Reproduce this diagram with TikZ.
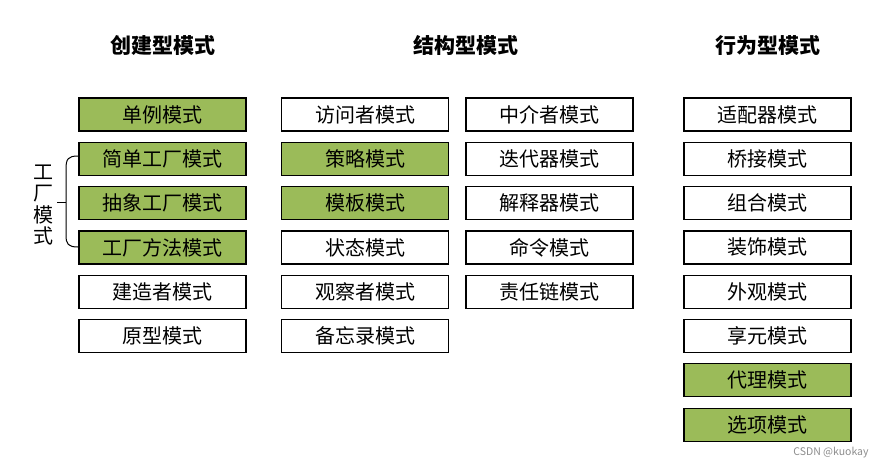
\documentclass[tikz,border=0pt]{standalone}
\usepackage{fontspec}
\setmainfont{Noto Sans CJK SC}
\usetikzlibrary{positioning}
\definecolor{patgreen}{HTML}{9BBB59}
\tikzset{
  pat/.style={draw=black, line width=1.2pt, fill=white, minimum width=167pt,
    minimum height=33pt, inner sep=0pt, font=\fontsize{20}{20}\selectfont},
  hot/.style={pat, fill=patgreen},
  head/.style={font=\fontsize{21}{21}\selectfont\bfseries},
}
\begin{document}
\begin{tikzpicture}[x=1pt, y=1pt, node distance=10.1pt]
      \useasboundingbox (0,0) rectangle (887,-469);

      % headings
      \node[head] (create) at (163,-45) {创建型模式} ;
      \node[head] (struct) at (466,-45) {结构型模式} ;
      \node[head] (behave) at (768,-45) {行为型模式} ;

      % creational
      \node[hot] (single) at (162.5,-114.5) {单例模式} ;
      \node[hot, below=of single] (simple) {简单工厂模式} ;
      \node[hot, below=of simple] (abstract) {抽象工厂模式} ;
      \node[hot, below=of abstract] (method) {工厂方法模式} ;
      \node[pat, below=of method] (builder) {建造者模式} ;
      \node[pat, below=of builder] (proto) {原型模式} ;

      % factory brace
      \node[font=\fontsize{20}{21.5}\selectfont, align=center] (factory) at (43,-205)
        {工\\厂\\模\\式} ;
      \draw[line width=1pt] (78,-156) .. controls (68,-156) and (66,-159) .. (66,-169)
        -- (66,-235) .. controls (66,-244) and (68,-247) .. (78,-247) ;
      \draw[line width=1pt] (57,-202) -- (66,-202) ;

      % structural, left
      \node[pat] (visitor) at (365,-114.5) {访问者模式} ;
      \node[hot, below=of visitor] (strategy) {策略模式} ;
      \node[hot, below=of strategy] (template) {模板模式} ;
      \node[pat, below=of template] (state) {状态模式} ;
      \node[pat, below=of state] (observer) {观察者模式} ;
      \node[pat, below=of observer] (memento) {备忘录模式} ;

      % structural, right
      \node[pat] (mediator) at (549.5,-114.5) {中介者模式} ;
      \node[pat, below=of mediator] (iterator) {迭代器模式} ;
      \node[pat, below=of iterator] (interp) {解释器模式} ;
      \node[pat, below=of interp] (command) {命令模式} ;
      \node[pat, below=of command] (chain) {责任链模式} ;

      % behavioural
      \node[pat] (adapter) at (767.5,-114.5) {适配器模式} ;
      \node[pat, below=of adapter] (bridge) {桥接模式} ;
      \node[pat, below=of bridge] (composite) {组合模式} ;
      \node[pat, below=of composite] (decorator) {装饰模式} ;
      \node[pat, below=of decorator] (facade) {外观模式} ;
      \node[pat, below=of facade] (flyweight) {享元模式} ;
      \node[hot, below=of flyweight] (proxy) {代理模式} ;
      \node[hot, below=of proxy] (option) {选项模式} ;

      \node[text=black!45, font=\fontsize{10.5}{10.5}\selectfont] (mark) at (831,-453) {CSDN @kuokay} ;

    \end{tikzpicture}
\end{document}
